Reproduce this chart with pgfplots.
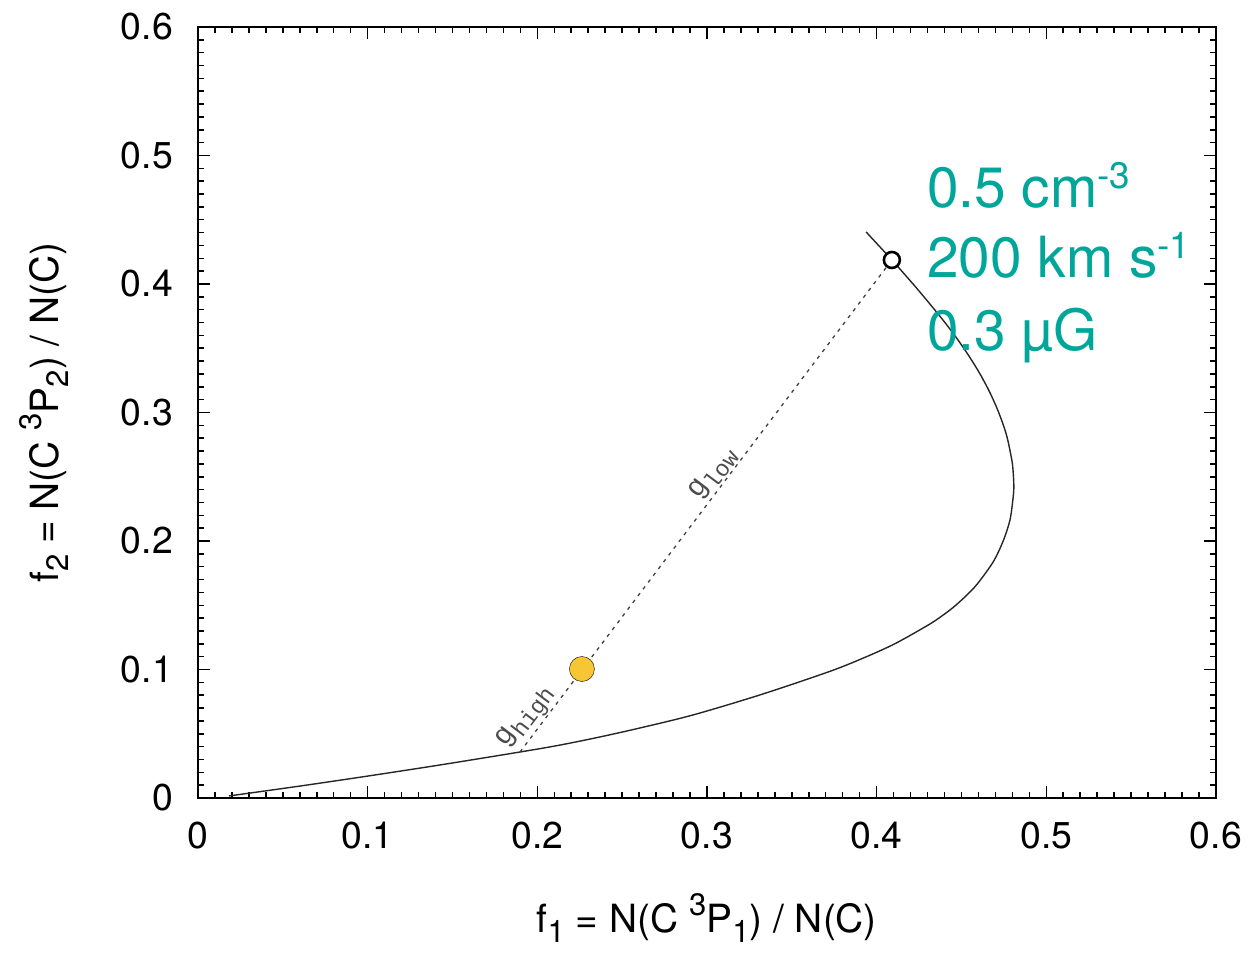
\documentclass[border=0pt]{standalone}
\usepackage{fontspec}
\setmainfont{TeX Gyre Heros}
\newfontfamily\monofont{Liberation Mono}
\usepackage{graphicx}
\usepackage{pgfplots}
\pgfplotsset{compat=1.18}
\definecolor{myteal}{RGB}{0,166,153}
\definecolor{myyellow}{RGB}{247,198,52}
\newcommand{\sbs}[1]{\raisebox{-0.28em}{\scalebox{0.8}{#1}}}
\newcommand{\sps}[1]{\raisebox{0.42em}{\scalebox{0.8}{#1}}}
\newcommand{\bsps}[1]{\raisebox{0.33em}{\scalebox{0.65}{#1}}}

\pgfplotstableread{
x y
0.0183 0.0016
0.0601 0.0093
0.1002 0.0171
0.1426 0.0257
0.1898 0.0358
0.2134 0.0412
0.2369 0.0475
0.2605 0.0545
0.2917 0.0646
0.3312 0.0802
0.3715 0.0981
0.3909 0.1082
0.4104 0.1198
0.4304 0.1346
0.4384 0.1416
0.4454 0.1486
0.4526 0.1572
0.4593 0.1665
0.4687 0.1837
0.4746 0.2000
0.4786 0.2163
0.4803 0.2319
0.4809 0.2420
0.4804 0.2553
0.4797 0.2630
0.4773 0.2786
0.4751 0.2887
0.4714 0.3019
0.4669 0.3152
0.4613 0.3292
0.4548 0.3432
0.4467 0.3588
0.4377 0.3743
0.4235 0.3969
0.4090 0.4187
0.3938 0.4405
}\curvedata

\begin{document}
\begin{tikzpicture}
\useasboundingbox (-198bp,-155bp) rectangle (1060bp,798bp);
\begin{axis}[
  at={(0,0)}, anchor=south west,
  width=1018bp, height=771bp, scale only axis,
  xmin=0, xmax=0.6, ymin=0, ymax=0.6,
  xtick={0,0.1,0.2,0.3,0.4,0.5,0.6},
  ytick={0,0.1,0.2,0.3,0.4,0.5,0.6},
  minor tick num=9,
  tick align=inside,
  major tick length=12bp, minor tick length=6bp,
  axis line style={line width=2.5bp},
  every tick/.style={black, line width=1.5bp},
  /pgf/number format/assume math mode=true,
  ticklabel style={font=\fontsize{37.5}{44}\selectfont},
  xticklabel style={inner sep=0pt, anchor=north, yshift=-24bp},
  yticklabel style={inner sep=0pt, anchor=east, xshift=-25bp},
  xlabel={f\sbs{1} = N(C \sps{3}P\sbs{1}) / N(C)},
  ylabel={f\sbs{2} = N(C \sps{3}P\sbs{2}) / N(C)},
  label style={font=\fontsize{39}{46}\selectfont},
  xlabel style={at={(axis description cs:0.5,-0.1738)}, anchor=base, inner sep=0pt},
  ylabel style={at={(axis description cs:-0.1375,0.5)}, anchor=base, inner sep=0pt},
  clip=false,
]
\addplot[black!85, line width=1.4bp, smooth, tension=0.5] table[x=x, y=y] {\curvedata};
\addplot[only marks, mark=*, mark size=12.5bp, mark options={fill=myyellow, draw=none}] coordinates {(0.2263,0.1004)};
\addplot[black!75, line width=1.3bp, dash pattern=on 3.5bp off 5bp] coordinates {(0.1898,0.0358) (0.4090,0.4187)};
\addplot[only marks, mark=*, mark size=8bp, mark options={fill=white, draw=black, line width=2.6bp}] coordinates {(0.4090,0.4187)};

\node[rotate=53, anchor=south, inner sep=1.5bp, text=black!70, font=\monofont\fontsize{29}{29}\selectfont] at (axis cs:0.310,0.246) {g\sbs{low}};
\node[rotate=53, anchor=south, inner sep=1.5bp, text=black!70, font=\monofont\fontsize{29}{29}\selectfont] at (axis cs:0.201,0.0553) {g\sbs{high}};

\node[anchor=base west, inner sep=0pt, text=myteal, font=\fontsize{57}{57}\selectfont] at (axis cs:0.4297,0.4599) {0.5 cm\bsps{-3}};
\node[anchor=base west, inner sep=0pt, text=myteal, font=\fontsize{57}{57}\selectfont] at (axis cs:0.4297,0.4054) {200 km s\bsps{-1}};
\node[anchor=base west, inner sep=0pt, text=myteal, font=\fontsize{57}{57}\selectfont] at (axis cs:0.4297,0.3486) {0.3 µG};
\end{axis}
\end{tikzpicture}
\end{document}
